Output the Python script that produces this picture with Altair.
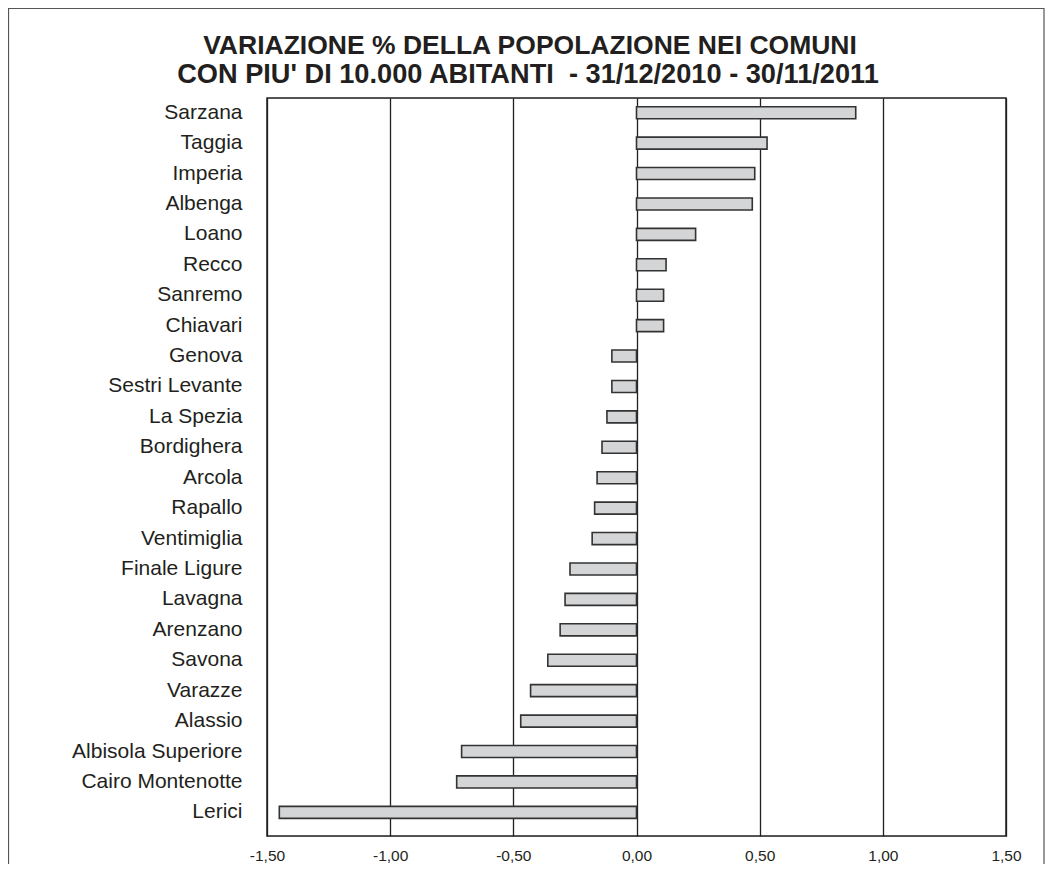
import altair as alt
import pandas as pd

comuni = ["Sarzana", "Taggia", "Imperia", "Albenga", "Loano", "Recco", "Sanremo",
          "Chiavari", "Genova", "Sestri Levante", "La Spezia", "Bordighera", "Arcola",
          "Rapallo", "Ventimiglia", "Finale Ligure", "Lavagna", "Arenzano", "Savona",
          "Varazze", "Alassio", "Albisola Superiore", "Cairo Montenotte", "Lerici"]
variazione = [0.89, 0.53, 0.48, 0.47, 0.24, 0.12, 0.11, 0.11, -0.10, -0.10, -0.12,
              -0.14, -0.16, -0.17, -0.18, -0.27, -0.29, -0.31, -0.36, -0.43, -0.47,
              -0.71, -0.73, -1.45]
tick_values = [-1.5, -1.0, -0.5, 0.0, 0.5, 1.0, 1.5]
title_lines = ["VARIAZIONE % DELLA POPOLAZIONE NEI COMUNI",
               "CON PIU' DI 10.000 ABITANTI\u00a0 - 31/12/2010 - 30/11/2011"]

df = pd.DataFrame({"comune": comuni, "var": variazione})
one = pd.DataFrame({"a": [0]})

W, H = 739, 738
INK = "#231f20"

bars = alt.Chart(df).mark_bar(
    fill="#d4d5d6", stroke="#333333", strokeWidth=1.6
).encode(
    x=alt.X("var:Q",
            scale=alt.Scale(domain=[-1.5, 1.5], nice=False, zero=False),
            axis=alt.Axis(values=tick_values, title=None, grid=True,
                          gridColor=INK, gridWidth=1.3, gridOpacity=1,
                          domain=False, ticks=False, labelFlush=False,
                          labelExpr="replace(replace(format(datum.value, '.2f'), '.', ','), '\u2212', '-')",
                          labelFont="Liberation Sans", labelFontSize=15.5,
                          labelColor=INK, labelPadding=12)),
    y=alt.Y("comune:N", sort=comuni,
            scale=alt.Scale(paddingInner=0.605, paddingOuter=0.433, align=0.33),
            axis=alt.Axis(title=None, domain=False, ticks=False,
                          labelFont="Liberation Sans", labelFontSize=21,
                          labelColor=INK, labelPadding=25, labelLimit=300)),
)

plot_frame = alt.Chart(one).mark_rect(
    fill=None, stroke=INK, strokeWidth=1.5
).encode(
    x=alt.value(0), x2=alt.value(W), y=alt.value(0), y2=alt.value(H),
)

outer_frame = alt.Chart(one).mark_rect(
    fill=None, stroke="#555555", strokeWidth=1.2
).encode(
    x=alt.value(-258.5), x2=alt.value(777),
    y=alt.value(-89.5), y2=alt.value(800),
)

title1 = alt.Chart(one).mark_text(
    text=title_lines[0], font="Liberation Sans", fontSize=26.5, fontWeight="bold",
    color=INK, align="center", baseline="alphabetic"
).encode(x=alt.value(263), y=alt.value(-44))

title2 = alt.Chart(one).mark_text(
    text=title_lines[1], font="Liberation Sans", fontSize=27.2, fontWeight="bold",
    color=INK, align="center", baseline="alphabetic"
).encode(x=alt.value(261), y=alt.value(-15))

chart = alt.layer(bars, plot_frame, outer_frame, title1, title2).properties(
    width=W, height=H,
    autosize=alt.AutoSizeParams(type="none"),
    padding={"left": 259, "top": 90, "right": 39, "bottom": 28},
).configure_view(
    stroke=None
).configure(background="white")

chart.save("out.html", embed_options={"renderer": "svg", "actions": False})
